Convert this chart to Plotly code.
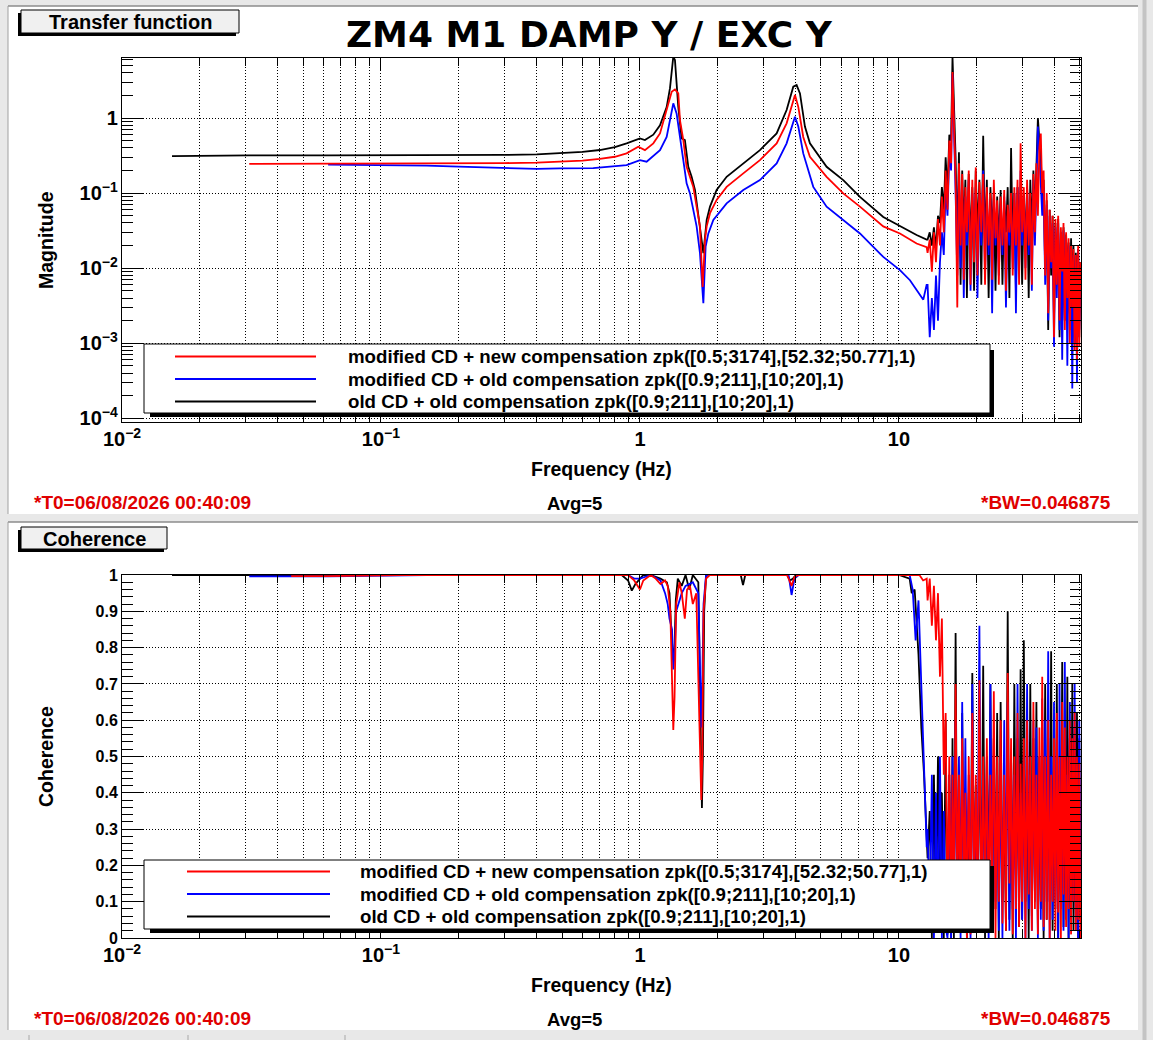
import plotly.graph_objects as go

# ---------------- Transfer function magnitude, smooth part ----------------
black_freq = [0.0156, 0.031, 0.0625, 0.1, 0.2, 0.3, 0.4, 0.49, 0.6, 0.7, 0.8, 0.888, 0.95, 1.0,
              1.045, 1.126, 1.195, 1.268, 1.306, 1.326, 1.345, 1.365, 1.385, 1.406, 1.448, 1.491,
              1.537, 1.583, 1.631, 1.68, 1.731, 1.757, 1.783, 1.81, 1.864, 1.977, 2.161, 2.506,
              2.906, 3.371, 3.684, 3.909, 4.026, 4.148, 4.335, 4.532, 5.257, 6.095, 7.07, 8.7,
              10.09, 11.7, 12.79]
black_mag = [0.31, 0.318, 0.318, 0.318, 0.32, 0.323, 0.328, 0.338, 0.355, 0.375, 0.41, 0.46, 0.5, 0.536,
             0.51, 0.6, 0.8, 1.4, 2.5, 3.94, 6.57, 5.93, 2.9, 1.41, 0.536, 0.51,
             0.224, 0.165, 0.11, 0.054, 0.0262, 0.0158, 0.0262, 0.044, 0.066, 0.11, 0.165, 0.249,
             0.374, 0.624, 1.28, 2.62, 2.75, 2.13, 0.77, 0.46, 0.224, 0.149, 0.089, 0.048,
             0.036, 0.0276, 0.024]

red_freq = [0.031, 0.0625, 0.1, 0.2, 0.3, 0.4, 0.49, 0.6, 0.7, 0.8, 0.888, 0.985, 1.045, 1.126,
            1.195, 1.268, 1.326, 1.365, 1.406, 1.427, 1.47, 1.514, 1.56, 1.607, 1.655, 1.705,
            1.746, 1.783, 1.81, 1.864, 1.977, 2.161, 2.506, 2.906, 3.371, 3.684, 3.968, 4.087,
            4.271, 4.532, 5.257, 6.095, 7.07, 8.7, 10.09, 11.7, 12.79]
red_mag = [0.245, 0.246, 0.247, 0.249, 0.251, 0.255, 0.262, 0.27, 0.285, 0.305, 0.338, 0.415, 0.374, 0.46,
           0.624, 1.28, 2.24, 2.41, 2.13, 0.94, 0.51, 0.224, 0.165, 0.121, 0.066, 0.036,
           0.0056, 0.024, 0.036, 0.054, 0.081, 0.121, 0.183, 0.275, 0.46, 0.85, 2.03, 1.41,
           0.56, 0.305, 0.165, 0.099, 0.066, 0.036, 0.029, 0.0213, 0.019]

blue_freq = [0.0625, 0.1, 0.15, 0.2, 0.3, 0.4, 0.49, 0.66, 0.888, 1.0, 1.061, 1.195, 1.268, 1.326,
             1.345, 1.385, 1.427, 1.47, 1.514, 1.56, 1.607, 1.655, 1.705, 1.757, 1.793, 1.837,
             1.92, 2.161, 2.506, 2.906, 3.371, 3.684, 3.968, 4.087, 4.271, 4.532, 4.669, 5.257,
             6.095, 7.07, 8.7, 10.09, 11.03, 12.42, 12.79]
blue_mag = [0.24, 0.238, 0.232, 0.225, 0.215, 0.21, 0.213, 0.215, 0.236, 0.275, 0.262, 0.374, 0.56, 1.28,
            1.57, 1.15, 0.56, 0.305, 0.135, 0.099, 0.059, 0.036, 0.0158, 0.0034, 0.0194, 0.029,
            0.044, 0.073, 0.11, 0.149, 0.249, 0.46, 1.04, 0.77, 0.338, 0.165, 0.121, 0.066,
            0.044, 0.029, 0.0141, 0.0094, 0.0069, 0.0038, 0.006]

# ---------------- noisy high-frequency part (shared frequency bins) ----------------
noise_freq = [12.9, 13.15, 13.4, 13.65, 13.9, 14.15, 14.4, 14.65, 14.9, 15.15, 15.4, 15.65, 15.9, 16.1,
              16.3, 16.55, 16.8, 17.05, 17.3, 17.55, 17.8, 18.05, 18.3,
              18.6, 18.9, 19.2, 19.5, 19.8, 20.1,
              20.45, 20.8, 21.15, 21.5, 21.85, 22.2, 22.55, 22.9, 23.25, 23.6, 23.95, 24.3,
              24.7, 25.1, 25.5, 25.9, 26.3, 26.7, 27.1, 27.5, 27.9, 28.3, 28.7, 29.1, 29.5, 29.9,
              30.35, 30.8, 31.25, 31.7, 32.15, 32.6, 33.05, 33.5, 33.95, 34.4, 34.85, 35.3, 35.75,
              36.2, 36.7, 37.2, 37.7, 38.2, 38.7, 39.2, 39.7, 40.2, 40.7, 41.2, 41.7, 42.2, 42.7,
              43.2, 43.7, 44.2, 44.7, 45.2, 45.7, 46.2, 46.7, 47.2, 47.7, 48.2, 48.7, 49.2, 49.7, 50.2]

black_mag_noise = [0.024, 0.03, 0.02, 0.035, 0.018, 0.05, 0.04, 0.12, 0.06, 0.3, 0.1, 0.6, 0.5, 6.5,
                   2.0, 0.3, 0.02, 0.35, 0.006, 0.2, 0.03, 0.15, 0.004,
                   0.18, 0.02, 0.12, 0.005, 0.2, 0.03,
                   0.15, 0.006, 0.58, 0.02, 0.15, 0.004, 0.12, 0.03, 0.1, 0.005, 0.09, 0.02,
                   0.11, 0.006, 0.08, 0.03, 0.12, 0.004, 0.4, 0.02, 0.1, 0.005, 0.12, 0.03, 0.09, 0.006,
                   0.1, 0.02, 0.12, 0.004, 0.15, 0.03, 0.2, 0.05, 0.35, 1.0, 0.5, 0.3, 0.08,
                   0.15, 0.01, 0.08, 0.0015, 0.06, 0.008, 0.05, 0.002, 0.04, 0.006, 0.045, 0.0012, 0.03, 0.004,
                   0.035, 0.002, 0.028, 0.006, 0.022, 0.0015, 0.025, 0.004, 0.02, 0.001, 0.016, 0.002, 0.018, 0.0012, 0.012]
blue_mag_noise = [0.006, 0.0012, 0.004, 0.0015, 0.008, 0.002, 0.012, 0.03, 0.015, 0.12, 0.05, 0.35, 0.2, 3.9,
                  1.0, 0.1, 0.008, 0.2, 0.01, 0.12, 0.004, 0.09, 0.02,
                  0.15, 0.005, 0.1, 0.02, 0.12, 0.004,
                  0.1, 0.02, 0.2, 0.008, 0.09, 0.015, 0.08, 0.0025, 0.1, 0.02, 0.06, 0.008,
                  0.07, 0.015, 0.09, 0.003, 0.05, 0.02, 0.08, 0.01, 0.1, 0.0025, 0.12, 0.01, 0.2, 0.02,
                  0.09, 0.01, 0.12, 0.015, 0.08, 0.005, 0.15, 0.02, 0.2, 0.77, 0.35, 0.15, 0.05,
                  0.12, 0.006, 0.07, 0.002, 0.05, 0.01, 0.04, 0.0009, 0.035, 0.004, 0.04, 0.0015, 0.03, 0.0006,
                  0.032, 0.002, 0.025, 0.0005, 0.02, 0.0025, 0.018, 0.00025, 0.015, 0.001, 0.012, 0.0003, 0.018, 0.0015, 0.01]
red_mag_noise = [0.016, 0.024, 0.009, 0.03, 0.012, 0.045, 0.02, 0.09, 0.03, 0.2, 0.06, 0.5, 0.25, 4.1,
                 1.2, 0.15, 0.003, 0.25, 0.02, 0.18, 0.007, 0.12, 0.03,
                 0.2, 0.006, 0.15, 0.012, 0.22, 0.008,
                 0.14, 0.03, 0.18, 0.006, 0.12, 0.02, 0.1, 0.007, 0.15, 0.025, 0.08, 0.006,
                 0.09, 0.02, 0.11, 0.005, 0.07, 0.03, 0.1, 0.008, 0.12, 0.02, 0.15, 0.006, 0.46, 0.03,
                 0.12, 0.007, 0.15, 0.02, 0.1, 0.006, 0.18, 0.03, 0.25, 0.05, 0.4, 0.62, 0.1,
                 0.2, 0.008, 0.1, 0.0025, 0.06, 0.012, 0.05, 0.0012, 0.045, 0.006, 0.05, 0.002, 0.035, 0.009,
                 0.04, 0.0015, 0.03, 0.004, 0.025, 0.001, 0.02, 0.003, 0.018, 0.0008, 0.015, 0.0006, 0.02, 0.0009, 0.012]

# ---------------- Coherence, smooth part ----------------
black_coh_freq = [0.0156, 0.5, 0.85, 0.9, 0.93, 0.96, 1.0, 1.03, 1.1, 1.2, 1.27, 1.3, 1.32, 1.345, 1.36,
                  1.375, 1.4, 1.45, 1.5, 1.55, 1.6, 1.68, 1.705, 1.72, 1.735, 1.75, 1.77, 1.8, 2.45,
                  2.5, 2.55, 3.7, 3.8, 3.9, 4.0, 10.0, 11.0, 11.2, 11.5, 11.9, 12.2, 12.5, 12.8]
black_coh = [1.0, 1.0, 1.0, 0.985, 0.957, 0.975, 0.99, 1.0, 1.0, 0.99, 0.98, 0.95, 0.85, 0.766, 0.8,
             0.93, 0.99, 0.97, 1.0, 0.96, 1.0, 0.98, 0.7, 0.45, 0.358, 0.5, 0.9, 1.0, 1.0,
             0.972, 1.0, 1.0, 0.985, 0.99, 1.0, 1.0, 0.99, 0.95, 0.96, 0.78, 0.58, 0.45, 0.24]

blue_coh_freq = [0.031, 0.0625, 0.15, 0.9, 0.95, 1.0, 1.1, 1.2, 1.25, 1.28, 1.3, 1.33, 1.345, 1.36, 1.38,
                 1.42, 1.45, 1.5, 1.6, 1.68, 1.705, 1.725, 1.74, 1.76, 1.8, 3.75, 3.85, 3.95, 4.1,
                 11.0, 11.3, 11.6, 11.9, 12.2, 12.5, 12.8]
blue_coh = [0.996, 0.996, 1.0, 1.0, 0.99, 0.99, 1.0, 0.985, 0.95, 0.92, 0.88, 0.85, 0.74, 0.78, 0.9,
            0.93, 0.95, 0.97, 0.98, 0.95, 0.75, 0.58, 0.7, 0.92, 1.0, 1.0, 0.945, 0.99, 1.0,
            1.0, 0.96, 0.82, 0.93, 0.69, 0.49, 0.25]

red_coh_freq = [0.045, 0.0625, 0.12, 0.9, 0.95, 1.0, 1.03, 1.1, 1.15, 1.2, 1.25, 1.28, 1.31, 1.33,
                1.345, 1.36, 1.38, 1.42, 1.45, 1.49, 1.52, 1.56, 1.6, 1.65, 1.7, 1.725, 1.74, 1.76,
                1.8, 1.86, 3.7, 3.85, 3.95, 4.1, 12.0, 12.4, 12.8]
red_coh = [0.997, 0.997, 1.0, 1.0, 0.985, 0.96, 0.985, 1.0, 0.99, 0.975, 0.985, 0.97, 0.9, 0.72,
           0.573, 0.663, 0.92, 0.98, 0.95, 0.88, 0.96, 0.97, 0.92, 0.95, 0.6, 0.38, 0.5, 0.9,
           0.99, 1.0, 1.0, 0.97, 0.995, 1.0, 1.0, 0.985, 0.99]

# coherence in the noisy bins (same bins as noise_freq)
black_coh_noise = [0.22, 0.35, 0.0, 0.45, 0.03, 0.5, 0.02, 0.4, 0.0, 0.6, 0.01, 0.45, 0.0, 0.55,
                   0.0, 0.84, 0.05, 0.4, 0.02, 0.62, 0.1, 0.35, 0.0,
                   0.4, 0.03, 0.73, 0.1, 0.42, 0.02,
                   0.6, 0.05, 0.75, 0.0, 0.5, 0.12, 0.7, 0.03, 0.55, 0.08, 0.62, 0.0,
                   0.65, 0.1, 0.4, 0.02, 0.9, 0.05, 0.5, 0.0, 0.7, 0.12, 0.55, 0.03, 0.74, 0.05,
                   0.82, 0.1, 0.5, 0.0, 0.7, 0.06, 0.55, 0.12, 0.65, 0.02, 0.5, 0.08, 0.6,
                   0.0, 0.7, 0.05, 0.55, 0.1, 0.79, 0.02, 0.5, 0.08, 0.7, 0.0, 0.45, 0.1, 0.76,
                   0.03, 0.5, 0.05, 0.72, 0.0, 0.55, 0.1, 0.7, 0.02, 0.58, 0.06, 0.62, 0.0, 0.55, 0.05]
blue_coh_noise = [0.3, 0.05, 0.45, 0.0, 0.4, 0.02, 0.5, 0.0, 0.35, 0.03, 0.0, 0.45, 0.0, 0.5,
                  0.05, 0.6, 0.1, 0.5, 0.0, 0.65, 0.05, 0.55, 0.12,
                  0.45, 0.0, 0.7, 0.05, 0.4, 0.1,
                  0.86, 0.02, 0.45, 0.1, 0.5, 0.0, 0.7, 0.05, 0.55, 0.1, 0.45, 0.02,
                  0.5, 0.0, 0.6, 0.1, 0.65, 0.02, 0.5, 0.08, 0.45, 0.0, 0.7, 0.1, 0.4, 0.05,
                  0.5, 0.0, 0.7, 0.08, 0.45, 0.02, 0.6, 0.1, 0.58, 0.0, 0.5, 0.05, 0.66,
                  0.02, 0.6, 0.1, 0.79, 0.0, 0.5, 0.05, 0.65, 0.1, 0.55, 0.0, 0.7, 0.08, 0.5,
                  0.02, 0.76, 0.1, 0.45, 0.0, 0.65, 0.05, 0.5, 0.1, 0.7, 0.02, 0.45, 0.0, 0.6, 0.1]
red_coh_noise = [0.93, 0.99, 0.86, 0.97, 0.82, 0.95, 0.72, 0.88, 0.45, 0.62, 0.03, 0.5, 0.02, 0.45,
                 0.03, 0.7, 0.1, 0.45, 0.02, 0.55, 0.15, 0.4, 0.0,
                 0.5, 0.01, 0.62, 0.1, 0.45, 0.05,
                 0.71, 0.03, 0.5, 0.08, 0.55, 0.02, 0.45, 0.12, 0.68, 0.0, 0.5, 0.1,
                 0.6, 0.04, 0.45, 0.02, 0.73, 0.15, 0.55, 0.01, 0.5, 0.08, 0.62, 0.03, 0.48, 0.1,
                 0.55, 0.0, 0.6, 0.12, 0.5, 0.02, 0.65, 0.08, 0.45, 0.01, 0.58, 0.1, 0.72,
                 0.03, 0.5, 0.05, 0.6, 0.0, 0.45, 0.1, 0.55, 0.02, 0.62, 0.07, 0.5, 0.0, 0.65,
                 0.12, 0.58, 0.03, 0.5, 0.08, 0.6, 0.01, 0.55, 0.1, 0.62, 0.02, 0.5, 0.05, 0.48, 0.0]

legend_labels = ["modified CD + new compensation zpk([0.5;3174],[52.32;50.77],1)",
                 "modified CD + old compensation zpk([0.9;211],[10;20],1)",
                 "old CD + old compensation zpk([0.9;211],[10;20],1)"]
legend_colors = ["#ff0000", "#0000ff", "#000000"]

W, H = 1153, 1040


def px(x):
    return x / W


def py(y):
    return 1 - y / H


HELV = "Liberation Sans, Arial, Helvetica, sans-serif"
RED_TXT = "#e00000"

fig = go.Figure()

mag_series = [(black_freq, black_mag, black_mag_noise, "#000000"),
              (blue_freq, blue_mag, blue_mag_noise, "#0000ff"),
              (red_freq, red_mag, red_mag_noise, "#ff0000")]
for f, m, n, c in mag_series:
    fig.add_trace(go.Scatter(x=f + noise_freq, y=m + n, mode="lines",
                             line=dict(color=c, width=1.8), xaxis="x", yaxis="y",
                             showlegend=False, hoverinfo="skip"))

coh_series = [(black_coh_freq, black_coh, black_coh_noise, "#000000"),
              (blue_coh_freq, blue_coh, blue_coh_noise, "#0000ff"),
              (red_coh_freq, red_coh, red_coh_noise, "#ff0000")]
for f, m, n, c in coh_series:
    fig.add_trace(go.Scatter(x=f + noise_freq, y=m + n, mode="lines",
                             line=dict(color=c, width=1.8), xaxis="x2", yaxis="y2",
                             showlegend=False, hoverinfo="skip"))

tick_font = dict(family=HELV, size=16, color="black", weight="bold")
grid = dict(showgrid=True, gridcolor="black", gridwidth=1, griddash="1px,2px",
            showline=True, linecolor="black", linewidth=1, mirror="ticks",
            ticks="inside", tickcolor="black", tickwidth=1, zeroline=False,
            tickfont=tick_font, automargin=False)

xdom = [px(122), px(1081)]
xlog = dict(type="log", range=[-2, 1.703], dtick=1, exponentformat="power", ticklen=13,
            minor=dict(ticks="inside", ticklen=8, tickcolor="black", dtick="D1",
                       showgrid=True, gridcolor="black", griddash="1px,2px"),
            domain=xdom, **grid)

fig.update_layout(
    width=W, height=H,
    margin=dict(l=0, r=0, t=0, b=0, pad=0, autoexpand=False),
    paper_bgcolor="#e8e8e8",
    plot_bgcolor="white",
    showlegend=False,
    xaxis=dict(anchor="y", **xlog),
    yaxis=dict(anchor="x", type="log", range=[-4.05, 0.8], dtick=1, exponentformat="power",
               ticklen=22, domain=[py(422), py(58)],
               minor=dict(ticks="inside", ticklen=11, tickcolor="black", dtick="D1", showgrid=False),
               **grid),
    xaxis2=dict(anchor="y2", **xlog),
    yaxis2=dict(anchor="x2", range=[0, 1], dtick=0.1, ticklen=22, domain=[py(938), py(575)],
                minor=dict(ticks="inside", ticklen=11, tickcolor="black", dtick=0.02, showgrid=False),
                **grid),
)

shapes = []
# pads
for top, bot in [(6, 514), (522, 1030)]:
    shapes.append(dict(type="rect", xref="paper", yref="paper", x0=px(8), x1=px(1138),
                       y0=py(bot), y1=py(top), fillcolor="white", line=dict(width=0), layer="below"))
    shapes.append(dict(type="line", xref="paper", yref="paper", x0=px(8), x1=px(1138),
                       y0=py(top), y1=py(top), line=dict(color="#8c8c8c", width=1.5), layer="below"))
    shapes.append(dict(type="line", xref="paper", yref="paper", x0=px(8), x1=px(8),
                       y0=py(bot), y1=py(top), line=dict(color="#a0a0a0", width=1), layer="below"))
shapes.append(dict(type="line", xref="paper", yref="paper", x0=px(1144.5), x1=px(1144.5),
                   y0=0, y1=1, line=dict(color="#c4c4c4", width=4), layer="below"))
for xt in (29, 188, 345):
    shapes.append(dict(type="line", xref="paper", yref="paper", x0=px(xt), x1=px(xt),
                       y0=py(1040), y1=py(1035), line=dict(color="#a8a8a8", width=1), layer="below"))

# panel title boxes
for x0, y0, x1, y1 in [(21, 10, 239, 33), (21, 527, 167, 549)]:
    shapes.append(dict(type="rect", xref="paper", yref="paper", x0=px(x0 - 3), x1=px(x1 - 3),
                       y0=py(y1 + 3), y1=py(y0 + 3), fillcolor="black", line=dict(width=0)))
    shapes.append(dict(type="rect", xref="paper", yref="paper", x0=px(x0), x1=px(x1),
                       y0=py(y1), y1=py(y0), fillcolor="#f0f0f0", line=dict(color="black", width=1)))

# legend boxes
legend_boxes = [(144, 344, 990, 413, 175, 316, 346, [356.5, 379, 401.5]),
                (144, 860, 990, 929, 187, 330, 358, [871.5, 894, 916.5])]
for x0, y0, x1, y1, l0, l1, tx, rows in legend_boxes:
    shapes.append(dict(type="rect", xref="paper", yref="paper", x0=px(x0 + 6), x1=px(x1 + 4),
                       y0=py(y1 + 4), y1=py(y0 + 6), fillcolor="black", line=dict(width=0)))
    shapes.append(dict(type="rect", xref="paper", yref="paper", x0=px(x0), x1=px(x1),
                       y0=py(y1), y1=py(y0), fillcolor="white", line=dict(color="black", width=1)))
    for yy, col in zip(rows, legend_colors):
        shapes.append(dict(type="line", xref="paper", yref="paper", x0=px(l0), x1=px(l1),
                           y0=py(yy), y1=py(yy), line=dict(color=col, width=2)))

fig.update_layout(shapes=shapes)

ann = []


def txt(x, y, s, size=19, color="black", xanchor="center", angle=0, family=HELV):
    ann.append(dict(x=px(x), y=py(y), xref="paper", yref="paper", text=s, showarrow=False,
                    xanchor=xanchor, yanchor="middle", textangle=angle,
                    font=dict(family=family, size=size, color=color, weight="bold")))


txt(589, 35, "ZM4 M1 DAMP Y / EXC Y", size=36, family="DejaVu Sans, sans-serif")
txt(130, 22, "Transfer function", size=20)
txt(94, 538.5, "Coherence", size=20)
txt(46, 240, "Magnitude", size=19.5, angle=-90)
txt(46, 757, "Coherence", size=19.5, angle=-90)
for base in (0, 516):
    txt(601, 469 + base, "Frequency (Hz)", size=19.5)
    txt(32, 502 + base, "*T0=06/08/2026 00:40:09", color=RED_TXT, xanchor="left")
    txt(574, 503 + base, "Avg=5", size=18.5)
    txt(1113, 502 + base, "*BW=0.046875", color=RED_TXT, xanchor="right")

for x0, y0, x1, y1, l0, l1, tx, rows in legend_boxes:
    for yy, lab in zip(rows, legend_labels):
        txt(tx, yy, lab, size=18.7, xanchor="left")

fig.update_layout(annotations=ann)

# the page's default 8px body margin would push the 1153x1040 canvas off the window
fig.write_html("out.html", config={"displayModeBar": False},
               post_script="document.body.style.margin = '0';")
